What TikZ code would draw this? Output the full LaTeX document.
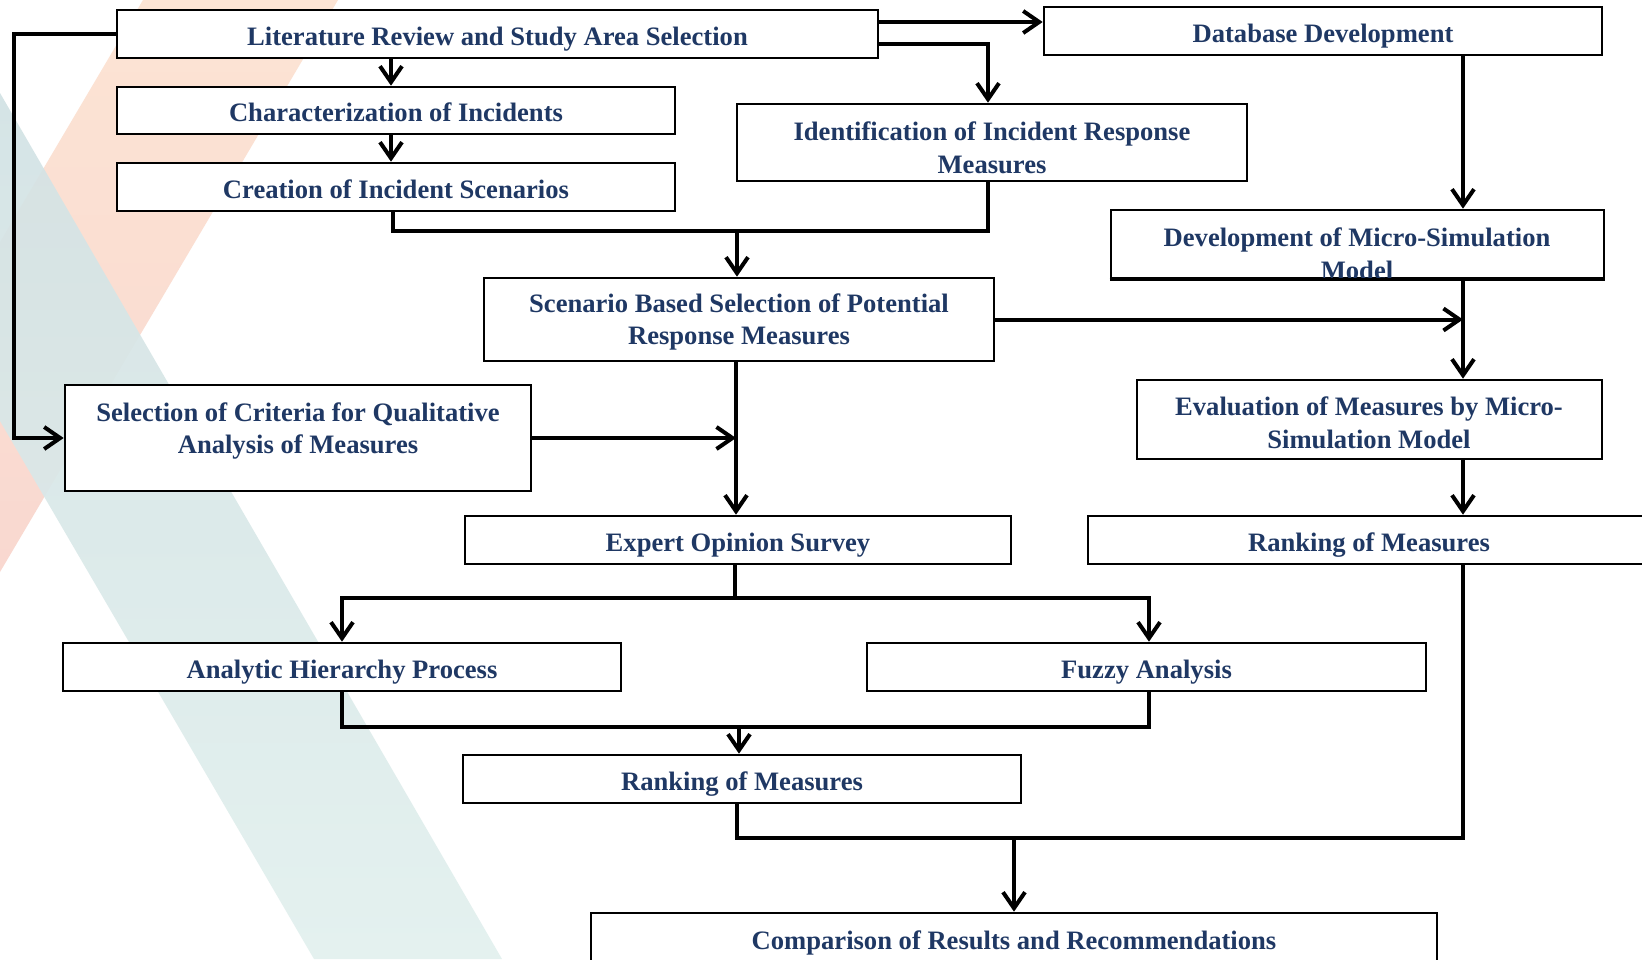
\documentclass[tikz,border=0pt]{standalone}
\usepackage{fontspec}
\setmainfont{Liberation Serif}
\usetikzlibrary{arrows.meta,calc}
\definecolor{navy}{RGB}{31,56,100}
\definecolor{peachA}{RGB}{252,228,212}
\definecolor{peachB}{RGB}{249,216,208}
\definecolor{tealA}{RGB}{210,226,228}
\definecolor{tealB}{RGB}{226,240,238}
\begin{document}
\begin{tikzpicture}[x=1pt,y=-1pt,
  box/.style={draw=black, line width=2.6pt, fill=white, inner sep=0pt, text=navy,
              font=\bfseries\fontsize{26.6}{32.5}\selectfont, align=center},
  box1/.style={box, text height=22pt, text depth=0pt},
  txt/.style={inner sep=0pt, text=navy, font=\bfseries\fontsize{26.6}{32.5}\selectfont, align=center},
  ln/.style={line width=4pt, draw=black},
  arr/.style={ln, -{Straight Barb[length=16pt,width=22pt]}}]
\fill[white] (0,0) rectangle (1642,959);
\useasboundingbox (0,0) rectangle (1642,959);
\begin{scope}
  \clip (0,0) rectangle (1642,959);
  \shade[top color=peachA, bottom color=peachB] (143,0) -- (338,0) -- (0,572) -- (0,242) -- cycle;
  \shade[top color=tealA, bottom color=tealB, opacity=0.92] (0,93) -- (502,959) -- (314,959) -- (0,421) -- cycle;
\end{scope}

% boxes
\node[box1, minimum width=761, minimum height=48] (lit) at (497.5,34) {Literature Review and Study Area Selection};
\node[box1, minimum width=558, minimum height=48] (db) at (1323,31) {Database Development};
\node[box1, minimum width=558, minimum height=47] (char) at (396,110.5) {Characterization of Incidents};
\node[box1, minimum width=558, minimum height=48] (creat) at (396,187) {Creation of Incident Scenarios};
\node[box, minimum width=510, minimum height=77] (ident) at (992,142.5) {};
\node[txt] (identt) at (992,148) {Identification of Incident Response\\Measures};
\node[box, minimum width=493, minimum height=68] (devms) at (1357.5,244) {};
\node[txt] (devmst) at (1357,254) {Development of Micro-Simulation\\Model};
\draw[line width=2.6pt] (devms.south west) -- (devms.south east);
\node[box, minimum width=510, minimum height=83] (scen) at (739,319.5) {};
\node[txt] (scent) at (739,322) {Scenario Based Selection of Potential\\Response Measures};
\node[box, minimum width=466, minimum height=106] (selc) at (298,438) {};
\node[txt] (selct) at (298,431) {Selection of Criteria for Qualitative\\Analysis of Measures};
\node[box, minimum width=465, minimum height=79] (evalm) at (1369.5,419.5) {};
\node[txt] (evalt) at (1369,423) {Evaluation of Measures by Micro-\\Simulation Model};
\node[box1, minimum width=546, minimum height=48] (expert) at (738,540) {Expert Opinion Survey};
\node[box1, minimum width=562, minimum height=48] (rankr) at (1369,540) {Ranking of Measures};
\node[box1, minimum width=558, minimum height=48] (ahp) at (342,667) {Analytic Hierarchy Process};
\node[box1, minimum width=559, minimum height=48] (fuzzy) at (1146.5,667) {Fuzzy Analysis};
\node[box1, minimum width=558, minimum height=48] (rankm) at (742,779) {Ranking of Measures};
\node[box1, minimum width=846, minimum height=50] (comp) at (1014,938) {Comparison of Results and Recommendations};

% helper coordinates
\coordinate (rc) at (1463,0);
\coordinate (mc) at (736,0);
\coordinate (j1) at (737,231);
\coordinate (j2) at (735,598);
\coordinate (j3) at (739,727);
\coordinate (j4) at (1463,838);

% connectors
\draw[arr] ([xshift=-5pt]char.north |- lit.south) -- ([xshift=-5pt]char.north);
\draw[arr] ([xshift=-5pt]char.south) -- ([xshift=-5pt]creat.north);
\draw[arr] ([yshift=12pt]lit.east) -- ([yshift=12pt]lit.east -| db.west);
\draw[arr] ([yshift=-10pt]lit.east) -| ([xshift=-4pt]ident.north);
\draw[ln] ([xshift=-3pt]creat.south) |- (j1) -| ([xshift=-4pt]ident.south);
\draw[arr] (j1) -- (j1 |- scen.north);
\draw[arr] (db.south -| rc) -- (devms.north -| rc);
\draw[arr] (devms.south -| rc) -- (evalm.north -| rc);
\draw[arr] (scen.east) -- (scen.east -| rc);
\draw[arr] (scen.south -| mc) -- (expert.north -| mc);
\draw[arr] (selc.east) -- (selc.east -| mc);
\draw[arr] (lit.west) -- ++(-102,0) |- (selc.west);
\draw[arr] (evalm.south -| rc) -- (rankr.north -| rc);
\draw[ln] (expert.south -| j2) -- (j2);
\draw[arr] (j2) -| (ahp.north);
\draw[arr] (j2) -| ([xshift=2.5pt]fuzzy.north);
\draw[ln] (ahp.south) |- (j3) -| ([xshift=2.5pt]fuzzy.south);
\draw[arr] (j3) -- (j3 |- rankm.north);
\draw[ln] (rankm.south -| j1) |- (j4) -- (rankr.south -| j4);
\draw[arr] (comp.north |- j4) -- (comp.north);
\end{tikzpicture}
\end{document}
